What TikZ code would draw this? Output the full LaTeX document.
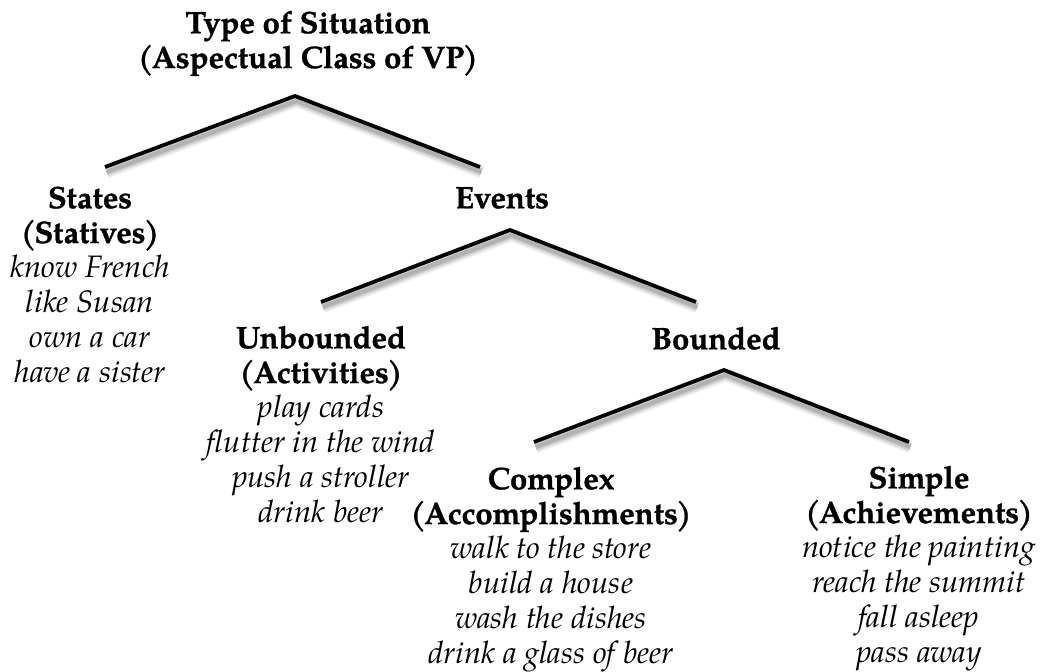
\documentclass[tikz,border=0pt]{standalone}
\usepackage{fontspec}
\setmainfont{TeX Gyre Pagella}[BoldFeatures={FakeBold=1}]
\newcommand{\fls}{\rule{0pt}{26pt}}
\newcommand{\hd}[1]{\textbf{#1}}
\newcommand{\ph}[1]{\textbf{(\kern-1.5pt#1\kern-1.5pt)}}
\newcommand{\ex}[1]{\textit{#1}}
\tikzset{
  lbl/.style={anchor=north, inner sep=0pt, align=center,
    font=\fontsize{31}{34.8}\selectfont},
  branch/.style={line width=3.8pt, draw=black, line join=miter, line cap=butt},
}
\newcommand{\shadowpath}[3]{%
  \foreach \w/\o in {13/0.05, 10/0.07, 7/0.09, 4/0.12}{%
    \draw[line width=\w pt, draw=black, opacity=\o, line join=round,
      transform canvas={shift={(1.5pt,-5pt)}}] (#1) -- (#2) -- (#3);
  }%
  \draw[branch] (#1) -- (#2) -- (#3);
}
\begin{document}
\begin{tikzpicture}[x=1pt, y=-1pt]
\useasboundingbox (0,0) rectangle (1047,672);
\fill[white] (0,0) rectangle (1047,672);

% text nodes (north = first baseline - 26)
\node[lbl] (title) at (308,7) {\fls\hd{Type of Situation}\\\ph{Aspectual Class of VP}};
\node[lbl] (states) at (90,182) {\fls\hd{States}\\\ph{Statives}\\\ex{know French}\\\ex{like Susan}\\\ex{own a car}\\\ex{have a sister}};
\node[lbl] (events) at (502,182) {\fls\hd{Events}};
\node[lbl] (unbounded) at (321,322) {\fls\hd{Unbounded}\\\ph{Activities}\\\ex{play cards}\\\ex{flutter in the wind}\\\ex{push a stroller}\\\ex{drink beer}};
\node[lbl] (bounded) at (716,323) {\fls\hd{Bounded}};
\node[lbl] (complex) at (551,463) {\fls\hd{Complex}\\\ph{Accomplishments}\\\ex{walk to the store}\\\ex{build a house}\\\ex{wash the dishes}\\\ex{drink a glass of beer}};
\node[lbl] (simple) at (919,462) {\fls\hd{Simple}\\\ph{Achievements}\\\ex{notice the painting}\\\ex{reach the summit}\\\ex{fall asleep}\\\ex{pass away}};

% branch points
\coordinate (t0) at (295,96);
\coordinate (tl) at (105,167);
\coordinate (tr) at (480,167);
\coordinate (e0) at (510,230);
\coordinate (el) at (321,302);
\coordinate (er) at (696,302);
\coordinate (b0) at (724,370);
\coordinate (bl) at (534,442);
\coordinate (br) at (909,442);

\shadowpath{tl}{t0}{tr}
\shadowpath{el}{e0}{er}
\shadowpath{bl}{b0}{br}
\end{tikzpicture}
\end{document}
